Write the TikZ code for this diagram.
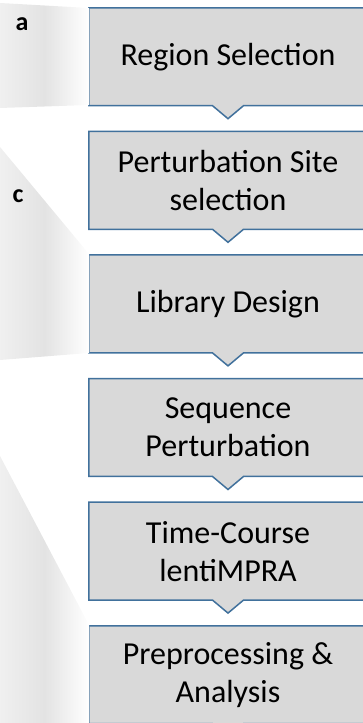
\documentclass[tikz,border=0pt]{standalone}
\usepackage{fontspec}
\setmainfont{Carlito}
\usetikzlibrary{calc}
\usetikzlibrary{backgrounds}
\definecolor{boxblue}{HTML}{41719C}
\definecolor{boxgray}{HTML}{D9D9D9}
\tikzset{stepbox/.style={minimum width=278pt, minimum height=97.5pt, inner sep=0pt, align=center, font=\fontsize{32}{38}\selectfont}}
\tikzset{stepline/.style={draw=boxblue, fill=boxgray, line width=1.5pt, line join=miter}}
\tikzset{fade/.style={left color=black!6, right color=white, middle color=black!11}}
\tikzset{panel/.style={font=\fontsize{26}{30}\selectfont\bfseries}}

\begin{document}
\begin{tikzpicture}[x=1pt, y=1pt]
\useasboundingbox (0,0) rectangle (362,723);
\shade[fade] (0,720) -- (89,715) -- (89,618) -- (0,615) -- cycle;
\shade[fade] (0,576) -- (89,469) -- (89,370) -- (0,363) -- cycle;
\shade[fade] (0,267) -- (89,98) -- (89,-5) -- (0,-5) -- cycle;
\node[panel] (pa) at (22,699) {a};
\node[panel] (pc) at (18,527) {c};
\foreach \t [count=\i, evaluate=\i as \yc using 666.25-123.6*(\i-1)] in {{Region Selection}, {Perturbation Site\\selection}, {Library Design}, {Sequence\\Perturbation}, {Time-Course\\lentiMPRA}, {Preprocessing \&\\Analysis}} {
 \node[stepbox] (s\i) at (228,\yc) {\t};
}
\begin{scope}[on background layer]
\foreach \i in {1,...,6} {
 \draw[stepline] (s\i.south west) -- (s\i.north west) -- (s\i.north east) -- (s\i.south east) -- ($(s\i.south)+(15.5,0)$) -- ($(s\i.south)+(0,-13)$) -- ($(s\i.south)+(-15.5,0)$) -- cycle;
}
\end{scope}
\end{tikzpicture}
\end{document}
